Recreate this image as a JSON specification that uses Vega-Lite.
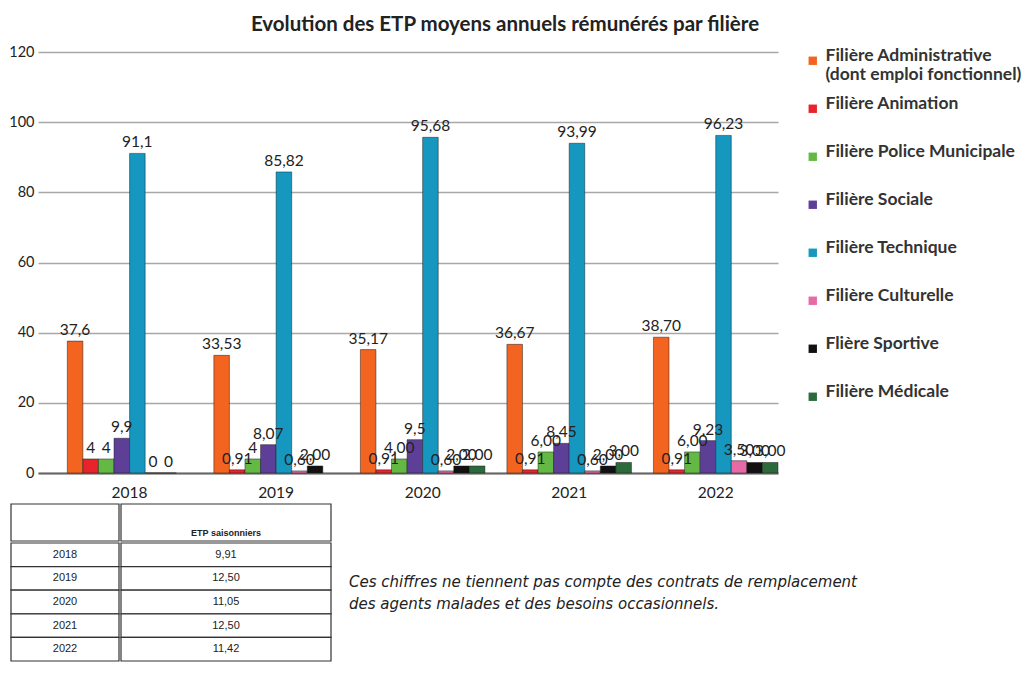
{
  "$schema": "https://vega.github.io/schema/vega-lite/v6.json",
  "padding": {"left": 8, "top": 14, "right": 0, "bottom": 0},
  "background": "white",
  "config": {
    "view": {"stroke": null},
    "font": "Lato"
  },
  "datasets": {
    "etp": [
      {"annee": "2018", "filiere": "Filière Administrative", "etp": 37.6, "label": "37,6"},
      {"annee": "2018", "filiere": "Filière Animation", "etp": 4, "label": "4"},
      {"annee": "2018", "filiere": "Filière Police Municipale", "etp": 4, "label": "4"},
      {"annee": "2018", "filiere": "Filière Sociale", "etp": 9.9, "label": "9,9"},
      {"annee": "2018", "filiere": "Filière Technique", "etp": 91.1, "label": "91,1"},
      {"annee": "2018", "filiere": "Filière Culturelle", "etp": 0, "label": "0"},
      {"annee": "2018", "filiere": "Flière Sportive", "etp": 0, "label": "0"},
      {"annee": "2019", "filiere": "Filière Administrative", "etp": 33.53, "label": "33,53"},
      {"annee": "2019", "filiere": "Filière Animation", "etp": 0.91, "label": "0,91"},
      {"annee": "2019", "filiere": "Filière Police Municipale", "etp": 4, "label": "4"},
      {"annee": "2019", "filiere": "Filière Sociale", "etp": 8.07, "label": "8,07"},
      {"annee": "2019", "filiere": "Filière Technique", "etp": 85.82, "label": "85,82"},
      {"annee": "2019", "filiere": "Filière Culturelle", "etp": 0.6, "label": "0,60"},
      {"annee": "2019", "filiere": "Flière Sportive", "etp": 2, "label": "2,00"},
      {"annee": "2020", "filiere": "Filière Administrative", "etp": 35.17, "label": "35,17"},
      {"annee": "2020", "filiere": "Filière Animation", "etp": 0.91, "label": "0,91"},
      {"annee": "2020", "filiere": "Filière Police Municipale", "etp": 4, "label": "4,00"},
      {"annee": "2020", "filiere": "Filière Sociale", "etp": 9.5, "label": "9,5"},
      {"annee": "2020", "filiere": "Filière Technique", "etp": 95.68, "label": "95,68"},
      {"annee": "2020", "filiere": "Filière Culturelle", "etp": 0.6, "label": "0,60"},
      {"annee": "2020", "filiere": "Flière Sportive", "etp": 2, "label": "2,00"},
      {"annee": "2020", "filiere": "Filière Médicale", "etp": 2, "label": "2,00"},
      {"annee": "2021", "filiere": "Filière Administrative", "etp": 36.67, "label": "36,67"},
      {"annee": "2021", "filiere": "Filière Animation", "etp": 0.91, "label": "0,91"},
      {"annee": "2021", "filiere": "Filière Police Municipale", "etp": 6, "label": "6,00"},
      {"annee": "2021", "filiere": "Filière Sociale", "etp": 8.45, "label": "8,45"},
      {"annee": "2021", "filiere": "Filière Technique", "etp": 93.99, "label": "93,99"},
      {"annee": "2021", "filiere": "Filière Culturelle", "etp": 0.6, "label": "0,60"},
      {"annee": "2021", "filiere": "Flière Sportive", "etp": 2, "label": "2,00"},
      {"annee": "2021", "filiere": "Filière Médicale", "etp": 3, "label": "3,00"},
      {"annee": "2022", "filiere": "Filière Administrative", "etp": 38.7, "label": "38,70"},
      {"annee": "2022", "filiere": "Filière Animation", "etp": 0.91, "label": "0,91"},
      {"annee": "2022", "filiere": "Filière Police Municipale", "etp": 6, "label": "6,00"},
      {"annee": "2022", "filiere": "Filière Sociale", "etp": 9.23, "label": "9,23"},
      {"annee": "2022", "filiere": "Filière Technique", "etp": 96.23, "label": "96,23"},
      {"annee": "2022", "filiere": "Filière Culturelle", "etp": 3.5, "label": "3,50"},
      {"annee": "2022", "filiere": "Flière Sportive", "etp": 3, "label": "3,00"},
      {"annee": "2022", "filiere": "Filière Médicale", "etp": 3, "label": "3,00"}
    ],
    "entete": [
      {"annee": "", "valeur": "ETP saisonniers"}
    ],
    "tableau": [
      {"annee": "2018", "valeur": "9,91"},
      {"annee": "2019", "valeur": "12,50"},
      {"annee": "2020", "valeur": "11,05"},
      {"annee": "2021", "valeur": "12,50"},
      {"annee": "2022", "valeur": "11,42"}
    ],
    "note": [
      {"pos": "a", "texte": "Ces chiffres ne tiennent pas compte des contrats de remplacement\ndes agents malades et des besoins occasionnels."}
    ]
  },
  "columns": 1,
  "spacing": 2,
  "resolve": {"scale": {"color": "independent"}, "legend": {"color": "independent"}},
  "concat": [
    {
      "width": 740,
      "height": 421,
      "data": {"name": "etp"},
      "title": {
        "text": "Evolution des ETP moyens annuels rémunérés par filière",
        "font": "Lato",
        "fontSize": 20.5,
        "fontWeight": "bold",
        "color": "#222",
        "anchor": "middle",
        "dx": 97,
        "offset": 9
      },
      "encoding": {
        "x": {
          "field": "annee", "type": "nominal",
          "scale": {"paddingInner": 0.15, "paddingOuter": 0.1, "align": 1},
          "axis": {"title": null, "labelAngle": 0, "labelFontSize": 15.5, "labelColor": "#222", "labelFont": "Lato", "domainColor": "#666", "domainWidth": 2, "ticks": false, "labelPadding": 12}
        },
        "xOffset": {
          "field": "filiere", "type": "nominal",
          "sort": ["Filière Administrative", "Filière Animation", "Filière Police Municipale", "Filière Sociale", "Filière Technique", "Filière Culturelle", "Flière Sportive", "Filière Médicale"],
          "scale": {"domain": ["Filière Administrative", "Filière Animation", "Filière Police Municipale", "Filière Sociale", "Filière Technique", "Filière Culturelle", "Flière Sportive", "Filière Médicale"], "paddingInner": 0}
        },
        "y": {
          "field": "etp", "type": "quantitative",
          "scale": {"domain": [0, 120]},
          "axis": {"title": null, "values": [0, 20, 40, 60, 80, 100, 120], "labelFontSize": 14.5, "labelColor": "#222", "domain": false, "ticks": false, "gridColor": "#a8a8a8", "gridWidth": 1.6, "labelPadding": 4}
        }
      },
      "layer": [
        {
          "mark": {"type": "bar", "stroke": "#1a1a1a", "strokeWidth": 0.8, "strokeOpacity": 0.6},
          "encoding": {
            "color": {
              "field": "filiere", "type": "nominal",
              "scale": {
                "domain": ["Filière Administrative", "Filière Animation", "Filière Police Municipale", "Filière Sociale", "Filière Technique", "Filière Culturelle", "Flière Sportive", "Filière Médicale"],
                "range": ["#f2641f", "#e7232b", "#63b944", "#5e3f98", "#1597bf", "#e56aa5", "#111111", "#2c6a3b"]
              },
              "legend": {
                "title": null,
                "orient": "right",
                "offset": 26,
                "symbolType": "square",
                "symbolSize": 70,
                "symbolStrokeWidth": 0,
                "labelFont": "Lato",
                "labelFontSize": 17.5,
                "labelFontWeight": "bold",
                "labelColor": "#333",
                "labelLimit": 220,
                "gridAlign": "all",
                "rowPadding": 10,
                "labelBaseline": "alphabetic",
                "labelOffset": 4,
                "padding": 0,
                "labelExpr": "datum.label == 'Filière Administrative' ? ['Filière Administrative', '(dont emploi fonctionnel)'] : datum.label",
                "encode": {"labels": {"update": {"dy": {"value": 7}}}}
              }
            }
          }
        },
        {
          "mark": {"type": "text", "baseline": "bottom", "dy": -3, "fontSize": 15.5, "color": "#222", "font": "Lato"},
          "encoding": {"text": {"field": "label", "type": "nominal"}}
        }
      ]
    },
    {
      "spacing": 17,
      "hconcat": [
        {
          "spacing": 0,
          "hconcat": [
            {
              "spacing": 0,
              "vconcat": [
                {
                  "width": 81,
                  "height": 37,
                  "data": {"name": "entete"},
                  "encoding": {
                    "x": {"datum": "c1", "type": "nominal", "scale": {"range": [-27, 81], "paddingInner": 0, "paddingOuter": 0}, "axis": null}
                  },
                  "layer": [
                    {"mark": {"type": "rect", "fill": "white", "stroke": "#333", "strokeWidth": 1.2}, "encoding": {}}
                  ]
                },
                {
                  "width": 81,
                  "height": 118,
                  "data": {"name": "tableau"},
                  "encoding": {
                    "x": {"datum": "c1", "type": "nominal", "scale": {"range": [-27, 81], "paddingInner": 0, "paddingOuter": 0}, "axis": null},
                    "y": {"field": "annee", "type": "nominal", "sort": null, "scale": {"paddingInner": 0, "paddingOuter": 0}, "axis": null}
                  },
                  "layer": [
                    {"mark": {"type": "rect", "fill": "white", "stroke": "#333", "strokeWidth": 1.2}, "encoding": {}},
                    {"mark": {"type": "text", "fontSize": 11, "color": "#222", "font": "Liberation Sans"}, "encoding": {"text": {"field": "annee"}}}
                  ]
                }
              ]
            },
            {
              "spacing": 0,
              "vconcat": [
                {
                  "width": 210,
                  "height": 37,
                  "data": {"name": "entete"},
                  "layer": [
                    {"mark": {"type": "rect", "fill": "white", "stroke": "#333", "strokeWidth": 1.2}, "encoding": {}},
                    {"mark": {"type": "text", "fontSize": 9, "fontWeight": "bold", "color": "#222", "font": "Liberation Sans", "dy": 10}, "encoding": {"text": {"field": "valeur"}}}
                  ]
                },
                {
                  "width": 210,
                  "height": 118,
                  "data": {"name": "tableau"},
                  "encoding": {
                    "y": {"field": "annee", "type": "nominal", "sort": null, "scale": {"paddingInner": 0, "paddingOuter": 0}, "axis": null}
                  },
                  "layer": [
                    {"mark": {"type": "rect", "fill": "white", "stroke": "#333", "strokeWidth": 1.2}, "encoding": {}},
                    {"mark": {"type": "text", "fontSize": 11, "color": "#222", "font": "Liberation Sans"}, "encoding": {"text": {"field": "valeur"}}}
                  ]
                }
              ]
            }
          ]
        },
        {
          "width": 560,
          "height": 155,
          "data": {"name": "note"},
          "mark": {"type": "text", "align": "left", "baseline": "middle", "lineBreak": "\n", "lineHeight": 22, "fontStyle": "italic", "fontSize": 15, "color": "#222", "font": "DejaVu Sans"},
          "encoding": {
            "x": {"field": "pos", "type": "nominal", "scale": {"type": "point", "padding": 0, "align": 0}, "axis": null},
            "y": {"field": "pos", "type": "nominal", "scale": {"type": "point", "padding": 0, "align": 0.5}, "axis": null},
            "text": {"field": "texte"}
          }
        }
      ]
    }
  ]
}
